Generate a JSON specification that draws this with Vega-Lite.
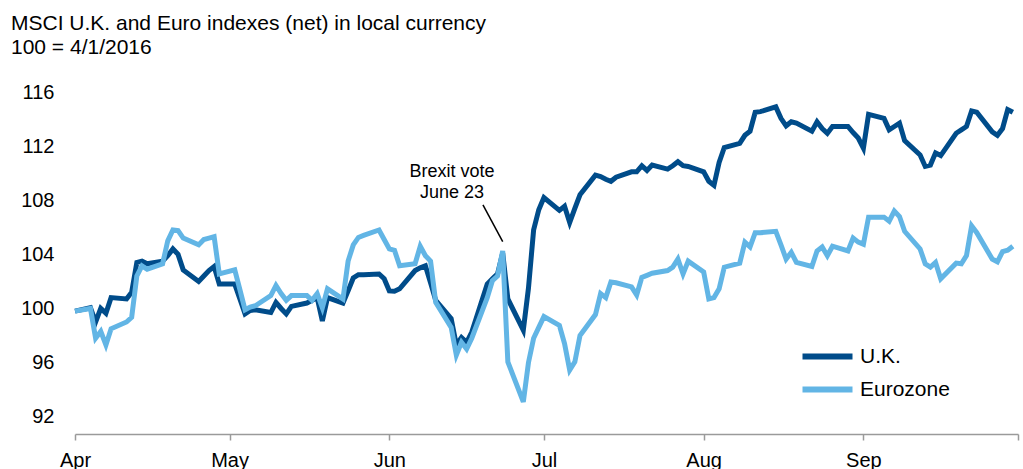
{
  "$schema": "https://vega.github.io/schema/vega-lite/v6.json",
  "width": 943,
  "height": 342,
  "autosize": {"type": "none"},
  "padding": {"left": 75, "top": 92, "right": 5, "bottom": 35},
  "background": "white",
  "title": {
    "text": ["MSCI U.K. and Euro indexes (net) in local currency", "100 = 4/1/2016"],
    "anchor": "start",
    "frame": "group",
    "dx": -64,
    "offset": 7,
    "font": "Liberation Sans",
    "fontSize": 21,
    "fontWeight": "normal",
    "color": "#000000",
    "lineHeight": 24,
    "baseline": "alphabetic"
  },
  "config": {
    "view": {"stroke": null},
    "font": "Liberation Sans",
    "axis": {"grid": false, "title": null, "labelFont": "Liberation Sans", "labelColor": "#000000"}
  },
  "datasets": {
    "uk": [
      {"date":"2016-04-01","value":99.8},{"date":"2016-04-04","value":100.05},{"date":"2016-04-05","value":99.0},{"date":"2016-04-06","value":100.0},{"date":"2016-04-07","value":99.65},{"date":"2016-04-08","value":100.8},{"date":"2016-04-11","value":100.7},{"date":"2016-04-12","value":101.2},{"date":"2016-04-13","value":103.4},{"date":"2016-04-14","value":103.5},{"date":"2016-04-15","value":103.3},{"date":"2016-04-18","value":103.5},{"date":"2016-04-19","value":103.9},{"date":"2016-04-20","value":104.4},{"date":"2016-04-21","value":104.0},{"date":"2016-04-22","value":102.85},{"date":"2016-04-25","value":102.0},{"date":"2016-04-26","value":102.4},{"date":"2016-04-27","value":102.8},{"date":"2016-04-28","value":103.1},{"date":"2016-04-29","value":101.8},
      {"date":"2016-05-02","value":101.8},{"date":"2016-05-03","value":100.7},{"date":"2016-05-04","value":99.6},{"date":"2016-05-05","value":99.85},{"date":"2016-05-06","value":99.9},{"date":"2016-05-09","value":99.7},{"date":"2016-05-10","value":100.45},{"date":"2016-05-11","value":100.0},{"date":"2016-05-12","value":99.6},{"date":"2016-05-13","value":100.15},{"date":"2016-05-16","value":100.4},{"date":"2016-05-17","value":100.6},{"date":"2016-05-18","value":100.8},{"date":"2016-05-19","value":99.07},{"date":"2016-05-20","value":100.8},{"date":"2016-05-23","value":100.4},{"date":"2016-05-24","value":101.3},{"date":"2016-05-25","value":102.25},{"date":"2016-05-26","value":102.5},{"date":"2016-05-27","value":102.5},{"date":"2016-05-30","value":102.55},{"date":"2016-05-31","value":102.2},
      {"date":"2016-06-01","value":101.3},{"date":"2016-06-02","value":101.27},{"date":"2016-06-03","value":101.45},{"date":"2016-06-06","value":102.8},{"date":"2016-06-07","value":103.0},{"date":"2016-06-08","value":103.15},{"date":"2016-06-09","value":101.9},{"date":"2016-06-10","value":100.6},{"date":"2016-06-13","value":99.25},{"date":"2016-06-14","value":97.3},{"date":"2016-06-15","value":97.85},{"date":"2016-06-16","value":97.5},{"date":"2016-06-17","value":98.25},{"date":"2016-06-20","value":101.8},{"date":"2016-06-21","value":102.2},{"date":"2016-06-22","value":102.55},{"date":"2016-06-23","value":104.1},{"date":"2016-06-24","value":100.7},{"date":"2016-06-27","value":98.4},{"date":"2016-06-28","value":101.5},{"date":"2016-06-29","value":105.8},{"date":"2016-06-30","value":107.3},
      {"date":"2016-07-01","value":108.2},{"date":"2016-07-04","value":107.25},{"date":"2016-07-05","value":107.55},{"date":"2016-07-06","value":106.35},{"date":"2016-07-07","value":107.4},{"date":"2016-07-08","value":108.4},{"date":"2016-07-11","value":109.85},{"date":"2016-07-12","value":109.75},{"date":"2016-07-13","value":109.55},{"date":"2016-07-14","value":109.4},{"date":"2016-07-15","value":109.7},{"date":"2016-07-18","value":110.1},{"date":"2016-07-19","value":110.1},{"date":"2016-07-20","value":110.55},{"date":"2016-07-21","value":110.2},{"date":"2016-07-22","value":110.6},{"date":"2016-07-25","value":110.3},{"date":"2016-07-26","value":110.55},{"date":"2016-07-27","value":110.85},{"date":"2016-07-28","value":110.55},{"date":"2016-07-29","value":110.5},
      {"date":"2016-08-01","value":110.1},{"date":"2016-08-02","value":109.4},{"date":"2016-08-03","value":109.1},{"date":"2016-08-04","value":110.8},{"date":"2016-08-05","value":111.9},{"date":"2016-08-08","value":112.2},{"date":"2016-08-09","value":112.8},{"date":"2016-08-10","value":113.1},{"date":"2016-08-11","value":114.5},{"date":"2016-08-12","value":114.55},{"date":"2016-08-15","value":114.9},{"date":"2016-08-16","value":114.05},{"date":"2016-08-17","value":113.5},{"date":"2016-08-18","value":113.8},{"date":"2016-08-19","value":113.7},{"date":"2016-08-22","value":113.1},{"date":"2016-08-23","value":113.8},{"date":"2016-08-24","value":113.3},{"date":"2016-08-25","value":112.95},{"date":"2016-08-26","value":113.45},{"date":"2016-08-29","value":113.45},{"date":"2016-08-30","value":113.0},{"date":"2016-08-31","value":112.6},
      {"date":"2016-09-01","value":111.85},{"date":"2016-09-02","value":114.35},{"date":"2016-09-05","value":114.05},{"date":"2016-09-06","value":113.2},{"date":"2016-09-07","value":113.45},{"date":"2016-09-08","value":113.7},{"date":"2016-09-09","value":112.4},{"date":"2016-09-12","value":111.35},{"date":"2016-09-13","value":110.5},{"date":"2016-09-14","value":110.6},{"date":"2016-09-15","value":111.5},{"date":"2016-09-16","value":111.3},{"date":"2016-09-19","value":112.95},{"date":"2016-09-20","value":113.2},{"date":"2016-09-21","value":113.45},{"date":"2016-09-22","value":114.6},{"date":"2016-09-23","value":114.5},{"date":"2016-09-26","value":113.05},{"date":"2016-09-27","value":112.8},{"date":"2016-09-28","value":113.3},{"date":"2016-09-29","value":114.7},{"date":"2016-09-30","value":114.5}
    ],
    "euro": [
      {"date":"2016-04-01","value":99.8},{"date":"2016-04-04","value":100.0},{"date":"2016-04-05","value":97.8},{"date":"2016-04-06","value":98.3},{"date":"2016-04-07","value":97.3},{"date":"2016-04-08","value":98.5},{"date":"2016-04-11","value":99.0},{"date":"2016-04-12","value":99.35},{"date":"2016-04-13","value":102.4},{"date":"2016-04-14","value":103.15},{"date":"2016-04-15","value":102.9},{"date":"2016-04-18","value":103.3},{"date":"2016-04-19","value":105.0},{"date":"2016-04-20","value":105.8},{"date":"2016-04-21","value":105.75},{"date":"2016-04-22","value":105.2},{"date":"2016-04-25","value":104.7},{"date":"2016-04-26","value":105.1},{"date":"2016-04-27","value":105.2},{"date":"2016-04-28","value":105.3},{"date":"2016-04-29","value":102.55},
      {"date":"2016-05-02","value":102.85},{"date":"2016-05-03","value":101.4},{"date":"2016-05-04","value":99.9},{"date":"2016-05-05","value":100.1},{"date":"2016-05-06","value":100.2},{"date":"2016-05-09","value":100.95},{"date":"2016-05-10","value":101.7},{"date":"2016-05-11","value":101.1},{"date":"2016-05-12","value":100.6},{"date":"2016-05-13","value":100.95},{"date":"2016-05-16","value":100.95},{"date":"2016-05-17","value":100.6},{"date":"2016-05-18","value":101.1},{"date":"2016-05-19","value":100.05},{"date":"2016-05-20","value":101.45},{"date":"2016-05-23","value":100.7},{"date":"2016-05-24","value":103.5},{"date":"2016-05-25","value":104.7},{"date":"2016-05-26","value":105.25},{"date":"2016-05-27","value":105.4},{"date":"2016-05-30","value":105.8},{"date":"2016-05-31","value":105.1},
      {"date":"2016-06-01","value":104.4},{"date":"2016-06-02","value":104.3},{"date":"2016-06-03","value":103.15},{"date":"2016-06-06","value":103.3},{"date":"2016-06-07","value":104.6},{"date":"2016-06-08","value":103.9},{"date":"2016-06-09","value":103.5},{"date":"2016-06-10","value":100.45},{"date":"2016-06-13","value":98.6},{"date":"2016-06-14","value":96.55},{"date":"2016-06-15","value":97.5},{"date":"2016-06-16","value":97.0},{"date":"2016-06-17","value":97.8},{"date":"2016-06-20","value":100.8},{"date":"2016-06-21","value":102.05},{"date":"2016-06-22","value":102.4},{"date":"2016-06-23","value":104.25},{"date":"2016-06-24","value":96.05},{"date":"2016-06-27","value":93.1},{"date":"2016-06-28","value":96.0},{"date":"2016-06-29","value":97.8},{"date":"2016-06-30","value":98.6},
      {"date":"2016-07-01","value":99.4},{"date":"2016-07-04","value":98.75},{"date":"2016-07-05","value":97.4},{"date":"2016-07-06","value":95.45},{"date":"2016-07-07","value":96.05},{"date":"2016-07-08","value":98.0},{"date":"2016-07-11","value":99.55},{"date":"2016-07-12","value":101.1},{"date":"2016-07-13","value":100.8},{"date":"2016-07-14","value":101.95},{"date":"2016-07-15","value":101.9},{"date":"2016-07-18","value":101.6},{"date":"2016-07-19","value":101.0},{"date":"2016-07-20","value":102.3},{"date":"2016-07-21","value":102.45},{"date":"2016-07-22","value":102.6},{"date":"2016-07-25","value":102.8},{"date":"2016-07-26","value":103.05},{"date":"2016-07-27","value":103.65},{"date":"2016-07-28","value":102.55},{"date":"2016-07-29","value":103.5},
      {"date":"2016-08-01","value":102.7},{"date":"2016-08-02","value":100.7},{"date":"2016-08-03","value":100.8},{"date":"2016-08-04","value":101.45},{"date":"2016-08-05","value":103.05},{"date":"2016-08-08","value":103.35},{"date":"2016-08-09","value":104.9},{"date":"2016-08-10","value":104.55},{"date":"2016-08-11","value":105.6},{"date":"2016-08-12","value":105.6},{"date":"2016-08-15","value":105.7},{"date":"2016-08-16","value":104.7},{"date":"2016-08-17","value":103.65},{"date":"2016-08-18","value":104.15},{"date":"2016-08-19","value":103.4},{"date":"2016-08-22","value":103.1},{"date":"2016-08-23","value":104.25},{"date":"2016-08-24","value":104.55},{"date":"2016-08-25","value":103.9},{"date":"2016-08-26","value":104.6},{"date":"2016-08-29","value":104.25},{"date":"2016-08-30","value":105.2},{"date":"2016-08-31","value":104.9},
      {"date":"2016-09-01","value":104.75},{"date":"2016-09-02","value":106.75},{"date":"2016-09-05","value":106.75},{"date":"2016-09-06","value":106.45},{"date":"2016-09-07","value":107.2},{"date":"2016-09-08","value":106.8},{"date":"2016-09-09","value":105.7},{"date":"2016-09-12","value":104.4},{"date":"2016-09-13","value":103.3},{"date":"2016-09-14","value":103.05},{"date":"2016-09-15","value":103.4},{"date":"2016-09-16","value":102.2},{"date":"2016-09-19","value":103.35},{"date":"2016-09-20","value":103.3},{"date":"2016-09-21","value":103.9},{"date":"2016-09-22","value":106.1},{"date":"2016-09-23","value":105.6},{"date":"2016-09-26","value":103.65},{"date":"2016-09-27","value":103.45},{"date":"2016-09-28","value":104.2},{"date":"2016-09-29","value":104.3},{"date":"2016-09-30","value":104.6}
    ]
  },
  "layer": [
    {
      "data": {"name": "uk"},
      "mark": {"type": "line", "strokeWidth": 5},
      "encoding": {
        "x": {"field": "date", "type": "temporal",
          "scale": {"type": "utc", "domain": [{"year": 2016, "month": 4, "date": 1, "utc": true}, {"year": 2016, "month": 10, "date": 1, "utc": true}]},
          "axis": {
            "values": [{"year": 2016, "month": 4, "date": 1, "utc": true}, {"year": 2016, "month": 5, "date": 1, "utc": true}, {"year": 2016, "month": 6, "date": 1, "utc": true}, {"year": 2016, "month": 7, "date": 1, "utc": true}, {"year": 2016, "month": 8, "date": 1, "utc": true}, {"year": 2016, "month": 9, "date": 1, "utc": true}, {"year": 2016, "month": 10, "date": 1, "utc": true}],
            "labelExpr": "utcmonth(datum.value) == 9 ? '' : utcFormat(datum.value, '%b')",
            "domainColor": "#9a9a9a", "domainWidth": 1.5, "tickColor": "#9a9a9a", "tickWidth": 1.5, "tickSize": 6,
            "labelFontSize": 20, "labelPadding": 10, "labelFlush": false, "labelOverlap": false
          }
        },
        "y": {"field": "value", "type": "quantitative",
          "scale": {"domain": [90.72, 116], "nice": false, "zero": false},
          "axis": {"values": [92, 96, 100, 104, 108, 112, 116], "ticks": false, "domain": false, "labelFontSize": 20, "labelPadding": 21}
        },
        "color": {"datum": "U.K.", "type": "nominal",
          "scale": {"domain": ["U.K.", "Eurozone"], "range": ["#004C8A", "#62B5E5"]},
          "legend": {"orient": "none", "legendX": 737, "legendY": 249, "title": null, "symbolType": "M-2,0H2", "symbolSize": 625, "symbolStrokeWidth": 6, "labelFontSize": 21, "labelOffset": 17, "rowPadding": 5, "padding": 0, "labelFont": "Liberation Sans", "labelColor": "#000000"}
        }
      }
    },
    {
      "data": {"name": "euro"},
      "mark": {"type": "line", "strokeWidth": 5},
      "encoding": {
        "x": {"field": "date", "type": "temporal"},
        "y": {"field": "value", "type": "quantitative"},
        "color": {"datum": "Eurozone", "type": "nominal"}
      }
    },
    {
      "data": {"values": [{}]},
      "mark": {"type": "rule", "color": "#000000", "strokeWidth": 1.5},
      "encoding": {
        "x": {"datum": {"year": 2016, "month": 6, "date": 19, "hours": 4, "utc": true}, "type": "temporal"},
        "x2": {"datum": {"year": 2016, "month": 6, "date": 23, "utc": true}},
        "y": {"datum": 107.65, "type": "quantitative"},
        "y2": {"datum": 104.94}
      }
    },
    {
      "data": {"values": [{}]},
      "mark": {"type": "text", "text": ["Brexit vote", "June 23"], "font": "Liberation Sans", "fontSize": 18, "lineHeight": 20.7, "align": "center", "baseline": "middle", "color": "#000000"},
      "encoding": {
        "x": {"datum": {"year": 2016, "month": 6, "date": 13, "hours": 4, "utc": true}, "type": "temporal"},
        "y": {"datum": 110.06, "type": "quantitative"}
      }
    }
  ]
}
